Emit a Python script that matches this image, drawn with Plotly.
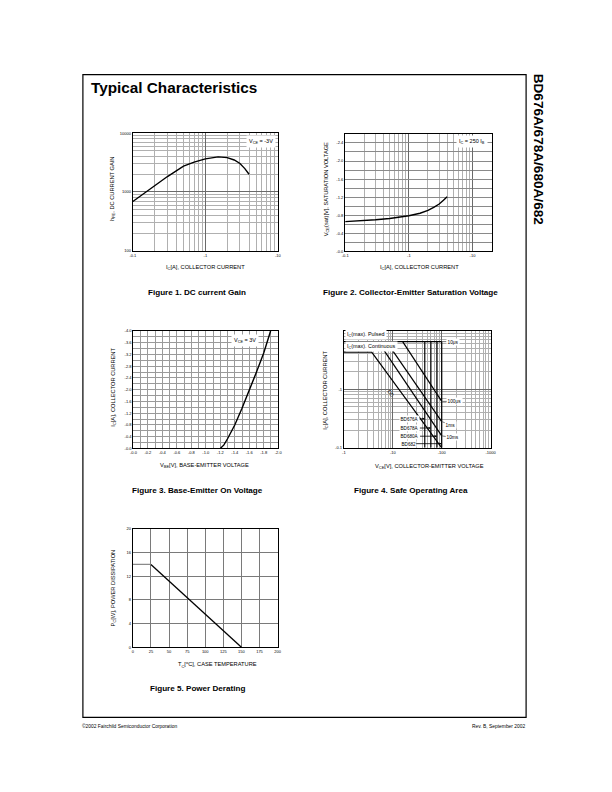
import numpy as np
import plotly.graph_objects as go

# page is 612x792; the html body adds an 8px margin, so the figure is drawn
# 16px smaller and page coordinates are shifted by 8px.
PAGE_W, PAGE_H = 612, 792
OFF = 8
W, H = PAGE_W - 2 * OFF, PAGE_H - 2 * OFF
FONT = "Liberation Sans, Arial, sans-serif"

# ---------------- data ----------------
# Figure 1: DC current gain
f1_ic = [0.1, 0.15, 0.2, 0.3, 0.5, 0.7, 1.0, 1.5, 2.0, 2.5, 3.0, 3.5, 4.0]
f1_hfe = [690, 1000, 1290, 1830, 2750, 3220, 3650, 3960, 3850, 3500, 3050, 2500, 2000]

# Figure 2: collector-emitter saturation voltage
f2_ic = [0.1, 0.2, 0.3, 0.5, 0.7, 1.0, 1.5, 2.0, 2.5, 3.0, 3.5, 4.0]
f2_vce = [0.66, 0.68, 0.70, 0.73, 0.755, 0.79, 0.845, 0.91, 0.98, 1.05, 1.13, 1.21]

# Figure 3: base-emitter on voltage
f3_vbe = [1.20, 1.25, 1.30, 1.35, 1.40, 1.50, 1.60, 1.70, 1.80, 1.895]
f3_ic = [0.0, 0.12, 0.33, 0.56, 0.80, 1.37, 1.97, 2.60, 3.25, 4.00]

# Figure 4: safe operating area
soa_pulsed_v = [1, 100]
soa_pulsed_i = [6.5, 6.5]
soa_dc_v = [1, 3.7, 100]
soa_dc_i = [4.3, 4.3, 0.10]
soa_10ms_v = [5.0, 100]
soa_10ms_i = [6.5, 0.16]
soa_1ms_v = [7.4, 100]
soa_1ms_i = [6.5, 0.28]
soa_100us_v = [15.9, 100]
soa_100us_i = [6.5, 0.62]
soa_vceo = [45, 60, 80, 100]
soa_parts = ["BD676A", "BD678A", "BD680A", "BD682"]
soa_part_i = [0.313, 0.218, 0.158, 0.118]

# Figure 5: power derating
f5_t = [0, 25, 150]
f5_p = [14, 14, 0]

# tick labels
f1_xt = [0.1, 1, 10]; f1_xl = ["-0.1", "-1", "-10"]
f1_yt = [100, 1000, 10000]; f1_yl = ["100", "1000", "10000"]
f2_xt = [0.1, 1, 10]; f2_xl = ["-0.1", "-1", "-10"]
f2_yt = [0, 0.4, 0.8, 1.2, 1.6, 2.0, 2.4]; f2_yl = ["-0.0", "-0.4", "-0.8", "-1.2", "-1.6", "-2.0", "-2.4"]
f3_xt = [0, 0.2, 0.4, 0.6, 0.8, 1.0, 1.2, 1.4, 1.6, 1.8, 2.0]
f3_xl = ["-0.0", "-0.2", "-0.4", "-0.6", "-0.8", "-1.0", "-1.2", "-1.4", "-1.6", "-1.8", "-2.0"]
f3_yt = [0, 0.4, 0.8, 1.2, 1.6, 2.0, 2.4, 2.8, 3.2, 3.6, 4.0]
f3_yl = ["-0.0", "-0.4", "-0.8", "-1.2", "-1.6", "-2.0", "-2.4", "-2.8", "-3.2", "-3.6", "-4.0"]
f4_xt = [1, 10, 100, 1000]; f4_xl = ["-1", "-10", "-100", "-1000"]
f4_yt = [0.1, 1]; f4_yl = ["-0.1", "-1"]
f5_xt = [0, 25, 50, 75, 100, 125, 150, 175, 200]
f5_yt = [0, 4, 8, 12, 16, 20]

# ---------------- helpers ----------------
def px(x):
    return (x - OFF) / W

def py(y):
    return 1 - (y - OFF) / H

def dec_minor(lo, hi):
    out = []
    for e in range(lo, hi):
        for m in range(2, 10):
            out.append(m * 10.0 ** e)
    return out

MAJ = "#6a6a6a"
MIN = "#b0b0b0"
TICKF = dict(size=4, family=FONT, color="black")

def ax(l, r, **kw):
    d = dict(domain=[px(l), px(r)], showline=True, linecolor="black", linewidth=1.2,
             mirror=True, ticks="", zeroline=False, showgrid=True, gridwidth=0.7,
             tickfont=TICKF, fixedrange=True, tickmode="array")
    d.update(kw)
    return d

def ay(t, b, **kw):
    d = dict(domain=[py(b), py(t)], showline=True, linecolor="black", linewidth=1.2,
             mirror=True, ticks="", zeroline=False, showgrid=True, gridwidth=0.7,
             tickfont=TICKF, fixedrange=True, tickmode="array")
    d.update(kw)
    return d

fig = go.Figure()

def line(x, y, n, color="black", width=1.3):
    fig.add_trace(go.Scatter(x=x, y=y, mode="lines", xaxis="x%d" % n if n > 1 else "x",
                             yaxis="y%d" % n if n > 1 else "y",
                             line=dict(color=color, width=width),
                             showlegend=False, hoverinfo="skip"))

line(f1_ic, f1_hfe, 1, width=1.4)
line(f2_ic, f2_vce, 2, width=1.4)
line(f3_vbe, f3_ic, 3, width=1.4)
line(soa_pulsed_v, soa_pulsed_i, 4, width=1.2)
line(soa_dc_v, soa_dc_i, 4, width=1.2)
line(soa_10ms_v, soa_10ms_i, 4, width=1.2)
line(soa_1ms_v, soa_1ms_i, 4, width=1.2)
line(soa_100us_v, soa_100us_i, 4, width=1.2)
for v in soa_vceo:
    line([v, v], [0.1, soa_pulsed_i[0]], 4, width=1.2)
line(f5_t[:2], f5_p[:2], 5, color="#8a8a8a", width=1.4)
line(f5_t[1:], f5_p[1:], 5, width=1.3)

lay = dict(
    width=W, height=H, margin=dict(l=0, r=0, t=0, b=0),
    paper_bgcolor="white", plot_bgcolor="white", showlegend=False,
    font=dict(family=FONT, color="black"),
    # figure 1
    xaxis=ax(131.7, 279, type="log", range=[-1, 1], tickvals=f1_xt, ticktext=f1_xl,
             gridcolor=MAJ, anchor="y",
             minor=dict(tickvals=dec_minor(-1, 1), showgrid=True, gridcolor=MIN, gridwidth=0.7, ticks="")),
    yaxis=ay(131, 249.3, type="log", range=[2, 4], tickvals=f1_yt, ticktext=f1_yl,
             gridcolor=MAJ, anchor="x",
             minor=dict(tickvals=dec_minor(2, 4), showgrid=True, gridcolor=MIN, gridwidth=0.7, ticks="")),
    # figure 2
    xaxis2=ax(347.3, 496, type="log", range=[-1, np.log10(20)], tickvals=f2_xt, ticktext=f2_xl,
              gridcolor=MAJ, anchor="y2",
              minor=dict(tickvals=dec_minor(-1, 1), showgrid=True, gridcolor=MIN, gridwidth=0.7, ticks="")),
    yaxis2=ay(131.7, 250, range=[0, 2.6], tickvals=f2_yt, ticktext=f2_yl,
              gridcolor="#8a8a8a", anchor="x2",
              minor=dict(tickmode="linear", tick0=0, dtick=0.2, showgrid=True, gridcolor="#8a8a8a", gridwidth=0.7, ticks="")),
    # figure 3
    xaxis3=ax(132.3, 279.3, range=[0, 2], tickvals=f3_xt, ticktext=f3_xl,
              gridcolor="#9a9a9a", anchor="y3",
              minor=dict(tickmode="linear", tick0=0, dtick=0.1, showgrid=True, gridcolor="#9a9a9a", gridwidth=0.7, ticks="")),
    yaxis3=ay(330, 448.3, range=[0, 4], tickvals=f3_yt, ticktext=f3_yl,
              gridcolor="#9a9a9a", anchor="x3",
              minor=dict(tickmode="linear", tick0=0, dtick=0.2, showgrid=True, gridcolor="#9a9a9a", gridwidth=0.7, ticks="")),
    # figure 4
    xaxis4=ax(346, 495, type="log", range=[0, 3], tickvals=f4_xt, ticktext=f4_xl,
              gridcolor=MAJ, anchor="y4",
              minor=dict(tickvals=dec_minor(0, 3), showgrid=True, gridcolor=MIN, gridwidth=0.7, ticks="")),
    yaxis4=ay(329.7, 447.7, type="log", range=[-1, 1], tickvals=f4_yt, ticktext=f4_yl,
              gridcolor=MAJ, anchor="x4",
              minor=dict(tickvals=dec_minor(-1, 1), showgrid=True, gridcolor=MIN, gridwidth=0.7, ticks="")),
    # figure 5
    xaxis5=ax(131.7, 278.7, range=[0, 200], tickvals=f5_xt, ticktext=[str(v) for v in f5_xt],
              gridcolor="#7a7a7a", anchor="y5"),
    yaxis5=ay(529.3, 648.3, range=[0, 20], tickvals=f5_yt, ticktext=[str(v) for v in f5_yt],
              gridcolor="#7a7a7a", anchor="x5"),
)

ann = []

def txt(x, y, s, size=5.7, angle=0, xanchor="center", bold=False, bg=None, pad=0):
    a = dict(x=px(x), y=py(y), xref="paper", yref="paper", text=("<b>%s</b>" % s) if bold else s,
             showarrow=False, xanchor=xanchor, yanchor="middle", textangle=angle,
             font=dict(size=size, family=FONT, color="black"), borderpad=pad)
    if bg:
        a["bgcolor"] = bg
    ann.append(a)

# page title, side text, footer
txt(88, 84.5, "Typical Characteristics", size=15.3, xanchor="left", bold=True)
txt(543.5, 148, "BD676A/678A/680A/682", size=13.6, angle=90, bold=True)
txt(79, 728, "©2002 Fairchild Semiconductor Corporation", size=4.9, xanchor="left")
txt(531, 728, "Rev. B, September 2002", size=4.9, xanchor="right")

# captions
txt(196.5, 291, "Figure 1. DC current Gain", size=8.1, bold=True)
txt(413.5, 291, "Figure 2. Collector-Emitter Saturation Voltage", size=8.1, bold=True)
txt(197.5, 491, "Figure 3. Base-Emitter On Voltage", size=8.1, bold=True)
txt(414, 491, "Figure 4. Safe Operating Area", size=8.1, bold=True)
txt(197, 690, "Figure 5. Power Derating", size=8.1, bold=True)

# axis titles
txt(205, 266, "I<sub>C</sub>[A], COLLECTOR CURRENT")
txt(111.7, 187, "h<sub>FE</sub>, DC CURRENT GAIN", angle=-90)
txt(422.3, 266, "I<sub>C</sub>[A], COLLECTOR CURRENT")
txt(328.3, 187, "V<sub>CE</sub>(sat)[V], SATURATION VOLTAGE", angle=-90)
txt(204, 465.5, "V<sub>BE</sub>[V], BASE-EMITTER VOLTAGE")
txt(111.7, 387, "I<sub>C</sub>[A], COLLECTOR CURRENT", angle=-90)
txt(432.5, 466, "V<sub>CE</sub>[V], COLLECTOR-EMITTER VOLTAGE")
txt(327, 390, "I<sub>C</sub>[A], COLLECTOR CURRENT", angle=-90)
txt(218, 666, "T<sub>C</sub>[<sup>o</sup>C], CASE TEMPERATURE")
txt(111.7, 589, "P<sub>C</sub>[W], POWER DISSIPATION", angle=-90)

# in-plot boxes
txt(261.7, 139.2, "V<sub>CE</sub> = -3V", size=5.5, bg="white", pad=2)
txt(476.5, 139.2, "I<sub>C</sub> = 250 I<sub>B</sub>", size=5.5, bg="white", pad=2)
txt(246, 339.5, "V<sub>CE</sub> = 3V", size=5.5, bg="white", pad=2)
txt(347.5, 333.3, "I<sub>C</sub>(max). Pulsed", size=5.4, xanchor="left", bg="white", pad=1)
txt(347.5, 345.8, "I<sub>C</sub>(max). Continuous", size=5.4, xanchor="left", bg="white", pad=1)

# SOA labels with leaders (data coordinates on log axes)
def soa_arrow(v, i, s, axpx, aypx=0, head=0, size=4.8):
    ann.append(dict(x=np.log10(v), y=np.log10(i), xref="x4", yref="y4", text=s,
                    showarrow=True, arrowhead=head, arrowsize=0.6, arrowwidth=0.8,
                    arrowcolor="black" if head else "#555", ax=axpx, ay=aypx,
                    font=dict(size=size, family=FONT, color="black"),
                    bgcolor="white", borderpad=0.5))

soa_arrow(soa_pulsed_v[-1], soa_pulsed_i[-1], "10μs", 11)
soa_arrow(soa_100us_v[-1], soa_100us_i[-1], "100μs", 13)
soa_arrow(soa_1ms_v[-1], soa_1ms_i[-1], "1ms", 9, 3)
soa_arrow(soa_10ms_v[-1], soa_10ms_i[-1], "10ms", 11, 1.5)
for v, i, s, off in zip(soa_vceo, soa_part_i, soa_parts, [-15, -21, -27, -33.5]):
    soa_arrow(v, i, s, off, 0, head=2, size=4.6)

ann.append(dict(x=np.log10(9.0), y=np.log10(0.85), xref="x4", yref="y4", text="DC",
                showarrow=False, textangle=54,
                font=dict(size=5, family=FONT, color="black")))

lay["annotations"] = ann
lay["shapes"] = [dict(type="rect", xref="paper", yref="paper",
                      x0=px(81), x1=px(531), y0=py(719), y1=py(72),
                      line=dict(color="black", width=1.2), fillcolor="rgba(0,0,0,0)")]

fig.update_layout(**lay)
fig.write_html("out.html")
